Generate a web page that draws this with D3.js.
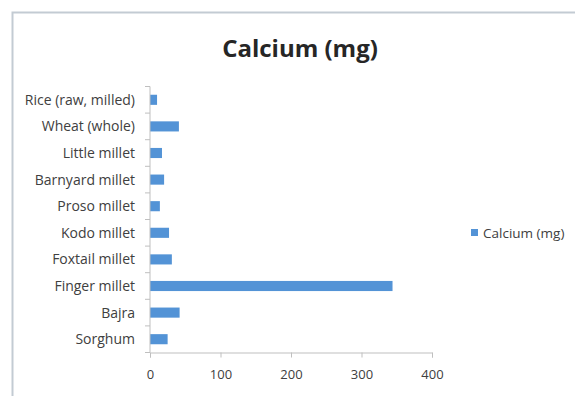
<!DOCTYPE html>
<html>
<head>
<meta charset="utf-8">
<script src="https://cdn.jsdelivr.net/npm/d3@7"></script>
<style>
  html, body { margin: 0; padding: 0; background: #ffffff; }
  svg { display: block; }
</style>
</head>
<body>
<svg id="chart" width="575" height="396"></svg>
<script>
// Calcium content per 100 g of grain
const categories = ["Sorghum", "Bajra", "Finger millet", "Foxtail millet", "Kodo millet",
  "Proso millet", "Barnyard millet", "Little millet", "Wheat (whole)", "Rice (raw, milled)"];
const calcium = [25, 42, 344, 31, 27, 14, 20, 17, 41, 10];
const xTicks = [0, 100, 200, 300, 400];
const seriesName = "Calcium (mg)";
const titleText = "Calcium (mg)";

const svg = d3.select("#chart");
const font = "'Open Sans', 'Liberation Sans', sans-serif";

// chart frame
svg.append("rect")
  .attr("x", 12.5).attr("y", 12.5)
  .attr("width", 580).attr("height", 400)
  .attr("fill", "#ffffff")
  .attr("stroke", "#c3cbd3").attr("stroke-width", 2);

const plot = { left: 150, right: 432, top: 86.5, bottom: 352.5 };

const x = d3.scaleLinear().domain([0, 400]).range([plot.left, plot.right]);
const y = d3.scaleBand()
  .domain(categories.slice().reverse())
  .range([plot.top, plot.bottom])
  .paddingInner(0.62).paddingOuter(0.31);

// bars
svg.append("g").selectAll("rect")
  .data(categories.map((c, i) => ({ c, v: calcium[i] })))
  .join("rect")
  .attr("x", x(0))
  .attr("y", d => y(d.c))
  .attr("width", d => x(d.v) - x(0))
  .attr("height", y.bandwidth())
  .attr("fill", "#5393d6");

// x axis
const xAxis = svg.append("g")
  .attr("transform", `translate(0,${plot.bottom})`)
  .call(d3.axisBottom(x).tickValues(xTicks).tickSize(5).tickPadding(12));
xAxis.select(".domain").attr("stroke", "#bfbfbf");
xAxis.selectAll(".tick line").attr("stroke", "#bfbfbf");
xAxis.selectAll("text")
  .attr("font-family", font).attr("font-size", 13).attr("fill", "#404040");

// y axis: ticks at category boundaries, labels centred on bands
const yAxisG = svg.append("g");
yAxisG.append("line")
  .attr("x1", plot.left).attr("x2", plot.left)
  .attr("y1", plot.top).attr("y2", plot.bottom)
  .attr("stroke", "#bfbfbf");
const step = y.step();
d3.range(categories.length + 1).forEach(i => {
  const yy = plot.top + i * step;
  yAxisG.append("line")
    .attr("x1", plot.left - 5).attr("x2", plot.left)
    .attr("y1", yy).attr("y2", yy)
    .attr("stroke", "#bfbfbf");
});
yAxisG.selectAll("text")
  .data(categories)
  .join("text")
  .attr("x", 135)
  .attr("y", d => y(d) + y.bandwidth() / 2)
  .attr("dy", "0.35em")
  .attr("text-anchor", "end")
  .attr("font-family", font).attr("font-size", 14).attr("fill", "#404040")
  .text(d => d);

// title
svg.append("text")
  .attr("x", 300).attr("y", 57)
  .attr("text-anchor", "middle")
  .attr("font-family", font).attr("font-weight", "bold")
  .attr("font-size", 24).attr("fill", "#262626")
  .text(titleText);

// legend
const legend = svg.append("g").attr("transform", "translate(471,229)");
legend.append("rect").attr("width", 7).attr("height", 7).attr("fill", "#5393d6");
legend.append("text")
  .attr("x", 12).attr("y", 4).attr("dy", "0.35em")
  .attr("font-family", font).attr("font-size", 13.5).attr("fill", "#404040")
  .text(seriesName);
</script>
</body>
</html>
